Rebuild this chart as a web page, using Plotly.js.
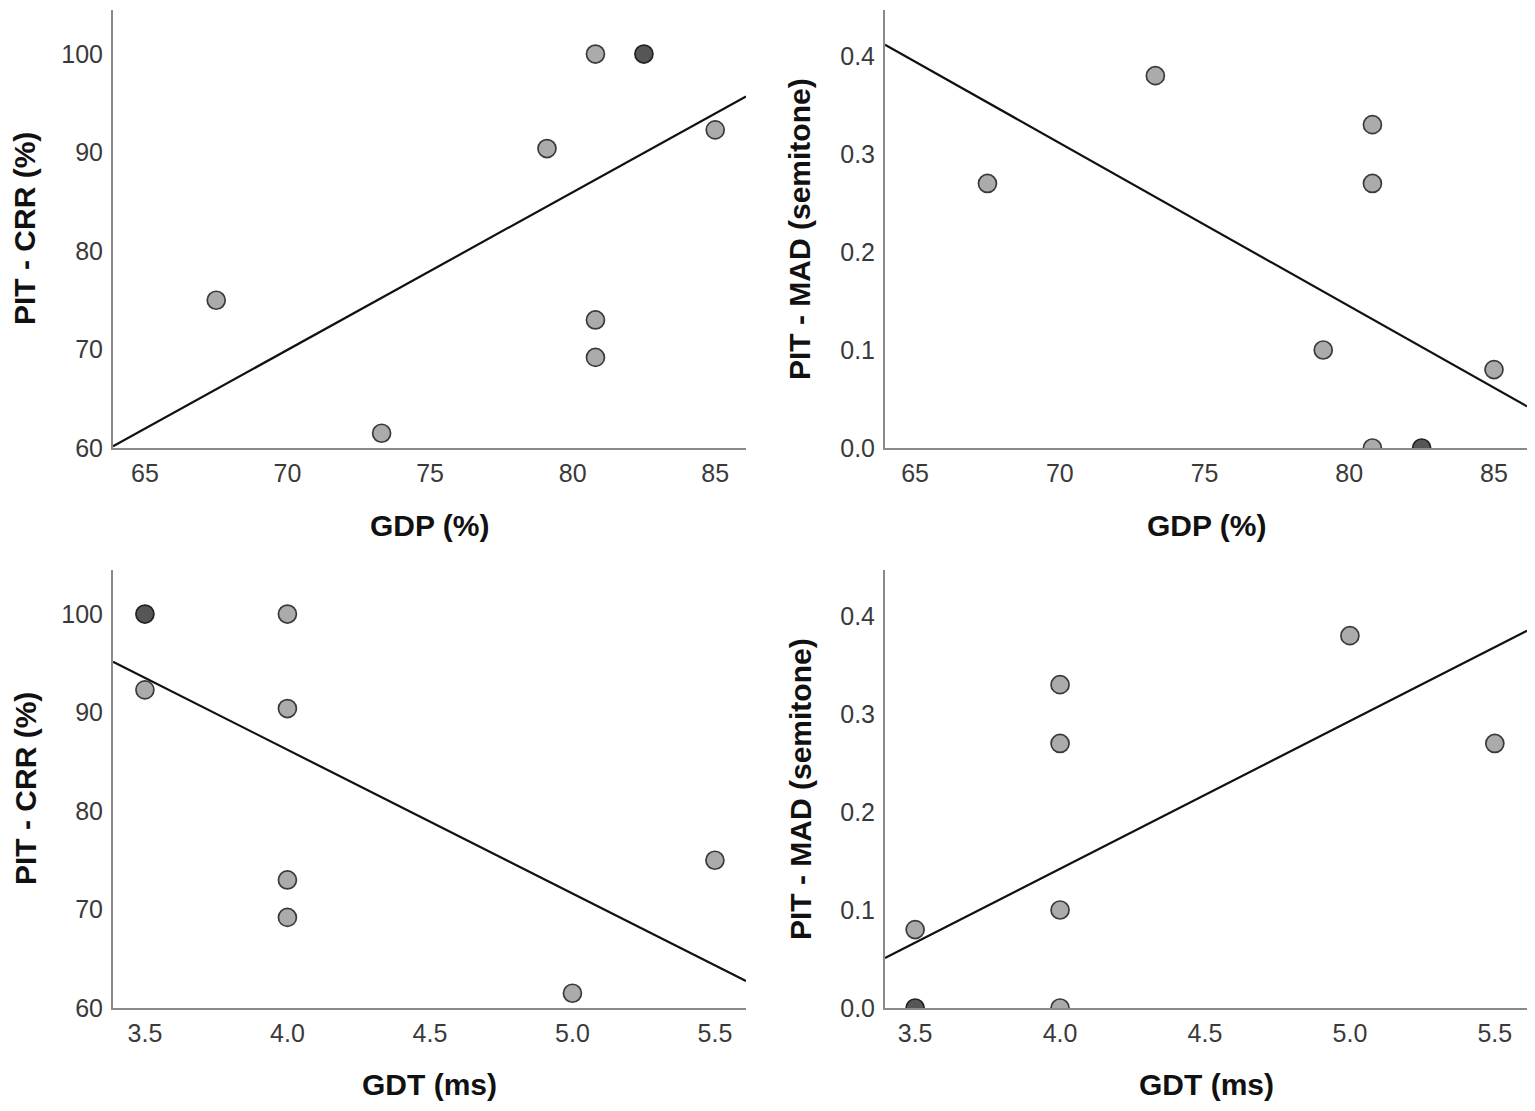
<!DOCTYPE html>
<html><head><meta charset="utf-8">
<script src="https://cdn.plot.ly/plotly-3.0.1.min.js"></script>
<style>html,body{margin:0;padding:0;background:#fff}#c{width:1535px;height:1111px}</style>
</head><body><div id="c"></div>
<script>
// Data (each listed point is one participant; duplicates overlap)
const gdp = [67.5, 73.3, 79.1, 80.8, 80.8, 80.8, 82.5, 82.5, 85.0];
const gdt = [5.5, 5.0, 4.0, 4.0, 4.0, 4.0, 3.5, 3.5, 3.5];
const crr = [75.0, 61.5, 90.4, 100.0, 73.0, 69.2, 100.0, 100.0, 92.3];
const mad = [0.27, 0.38, 0.10, 0.33, 0.27, 0.00, 0.00, 0.00, 0.08];

const xTitles = ['GDP (%)', 'GDP (%)', 'GDT (ms)', 'GDT (ms)'];
const yTitles = ['PIT - CRR (%)', 'PIT - MAD (semitone)', 'PIT - CRR (%)', 'PIT - MAD (semitone)'];

const panels = [
  {x: gdp, y: crr, xr: [63.88, 86.08], yr: [60, 104.47], xt: [65,70,75,80,85], yt: [60,70,80,90,100], xf: '', yf: ''},
  {x: gdp, y: mad, xr: [63.96, 86.14], yr: [0, 0.447], xt: [65,70,75,80,85], yt: [0,0.1,0.2,0.3,0.4], xf: '', yf: '.1f'},
  {x: gdt, y: crr, xr: [3.388, 5.609], yr: [60, 104.47], xt: [3.5,4,4.5,5,5.5], yt: [60,70,80,90,100], xf: '.1f', yf: ''},
  {x: gdt, y: mad, xr: [3.396, 5.611], yr: [0, 0.447], xt: [3.5,4,4.5,5,5.5], yt: [0,0.1,0.2,0.3,0.4], xf: '.1f', yf: '.1f'}
];

function fit(x, y) {
  const n = x.length;
  const mx = x.reduce((a,b)=>a+b,0)/n, my = y.reduce((a,b)=>a+b,0)/n;
  let sxy = 0, sxx = 0;
  for (let i=0;i<n;i++){ sxy += (x[i]-mx)*(y[i]-my); sxx += (x[i]-mx)**2; }
  const b = sxy/sxx; return {a: my - b*mx, b: b};
}

const W = 1535, H = 1111;
const xDom = [[113/W, 746/W], [885/W, 1527/W]];
const yDom = [[1-448/H, 1-10/H], [1-1008/H, 1-570/H]];

const traces = [];
const layout = {
  width: W, height: H, margin: {l:0, r:0, t:0, b:0},
  paper_bgcolor: '#fff', plot_bgcolor: '#fff', showlegend: false,
  font: {family: 'Liberation Sans, Arial, sans-serif', color: '#333'},
  annotations: []
};

panels.forEach((p, i) => {
  const col = i % 2, row = Math.floor(i / 2);
  const sx = i === 0 ? '' : String(i+1);
  const xa = 'x' + sx, ya = 'y' + sx;
  // group duplicates to shade overlapping points
  const key = {}; const ux = [], uy = [], cnt = [];
  p.x.forEach((xv, k) => {
    const kk = xv + '|' + p.y[k];
    if (key[kk] === undefined) { key[kk] = ux.length; ux.push(xv); uy.push(p.y[k]); cnt.push(0); }
    cnt[key[kk]]++;
  });
  const f = fit(p.x, p.y);
  traces.push({
    x: [p.xr[0], p.xr[1]], y: [f.a + f.b*p.xr[0], f.a + f.b*p.xr[1]],
    xaxis: xa, yaxis: ya, mode: 'lines', line: {color: '#111', width: 2.2}, hoverinfo: 'skip'
  });
  traces.push({
    x: ux, y: uy, xaxis: xa, yaxis: ya, mode: 'markers',
    marker: {size: 18, color: cnt.map(c => c > 1 ? '#565656' : '#ababab'),
             line: {color: cnt.map(c => c > 1 ? '#222' : '#3a3a3a'), width: 1.7}}
  });
  layout['xaxis' + sx] = {
    domain: xDom[col], range: p.xr, anchor: ya, tickvals: p.xt, tickformat: p.xf,
    showgrid: false, zeroline: false, showline: true, linecolor: '#8a8a8a', linewidth: 2,
    ticks: '', ticklabelstandoff: 2, tickfont: {size: 25, color: '#3a3a3a'}
  };
  layout['yaxis' + sx] = {
    domain: yDom[row], range: p.yr, anchor: xa, tickvals: p.yt, tickformat: p.yf,
    showgrid: false, zeroline: false, showline: true, linecolor: '#8a8a8a', linewidth: 2,
    ticks: '', ticklabelstandoff: 3, tickfont: {size: 25, color: '#3a3a3a'}
  };
  const xc = (xDom[col][0] + xDom[col][1]) / 2;
  layout.annotations.push({
    text: '<b>' + xTitles[i] + '</b>', xref: 'paper', yref: 'paper',
    x: xc, y: 1 - (row === 0 ? 525 : 1084) / H, xanchor: 'center', yanchor: 'middle',
    showarrow: false, font: {size: 30, color: '#111'}
  });
  layout.annotations.push({
    text: '<b>' + yTitles[i] + '</b>', xref: 'paper', yref: 'paper',
    x: (col === 0 ? 25 : 800) / W, y: (yDom[row][0] + yDom[row][1]) / 2,
    xanchor: 'center', yanchor: 'middle', textangle: -90,
    showarrow: false, font: {size: 30, color: '#111'}
  });
});

Plotly.newPlot('c', traces, layout, {displayModeBar: false, staticPlot: true});
</script></body></html>
